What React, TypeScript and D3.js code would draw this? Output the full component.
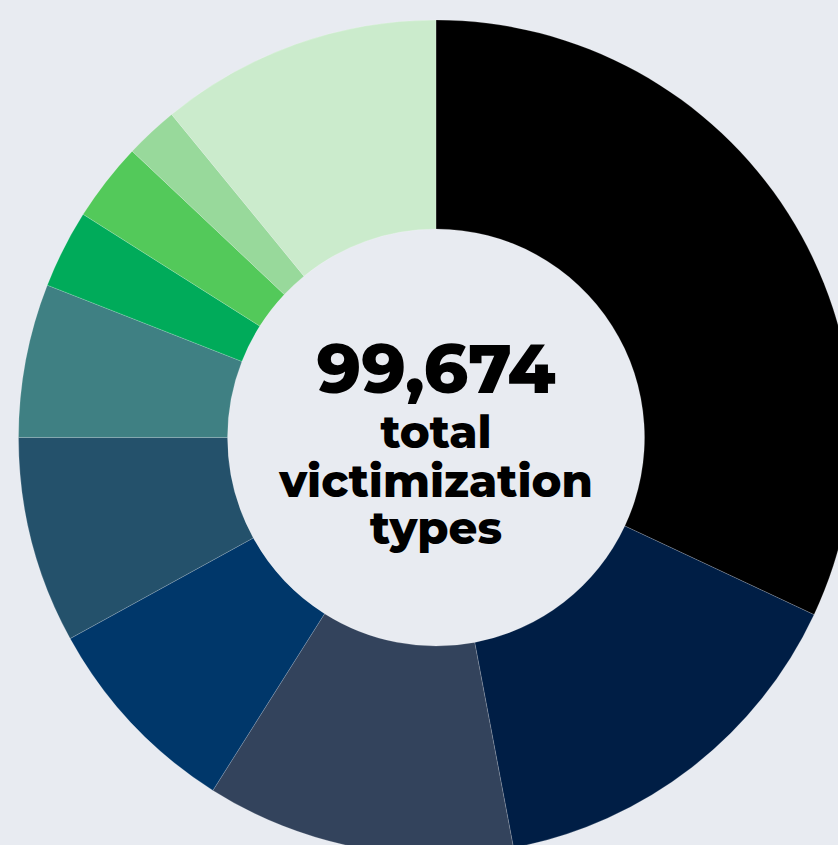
import React from "react";
import * as d3 from "d3";

const categories = [
  "Type 1",
  "Type 2",
  "Type 3",
  "Type 4",
  "Type 5",
  "Type 6",
  "Type 7",
  "Type 8",
  "Type 9",
  "Type 10",
];
const values = [31870, 15006, 11905, 8002, 7974, 5925, 3018, 3046, 2049, 10879];
const colors = [
  "#000000",
  "#001e45",
  "#33435c",
  "#00376a",
  "#24516b",
  "#3f8083",
  "#00ab5a",
  "#53c95a",
  "#98d99b",
  "#cbebcc",
];
const totalLabel = "99,674";
const centerLines = ["total", "victimization", "types"];

const W = 838;
const H = 845;
const BG = "#e8ebf1";

export default function App() {
  const cx = 436;
  const cy = 437.5;
  const outerR = 417.5;
  const innerR = 208.5;
  const data = categories.map((c, i) => ({ c, v: values[i], color: colors[i] }));
  const pie = d3
    .pie<any>()
    .sort(null)
    .value((d: any) => d.v)
    .startAngle(0)
    .endAngle(2 * Math.PI);
  const arcs = pie(data);
  const arc = d3.arc<any>().innerRadius(innerR).outerRadius(outerR);
  const font = "Montserrat, Inter, 'DejaVu Sans', sans-serif";
  return (
    <div style={{ position: "fixed", left: 0, top: 0, width: W, height: H }}>
      <svg width={W} height={H} style={{ display: "block" }}>
        <rect x={0} y={0} width={W} height={H} fill={BG} />
        <g transform={`translate(${cx},${cy})`}>
          {arcs.map((a, i) => (
            <path
              key={i}
              d={arc(a) as string}
              fill={a.data.color}
              stroke="#ffffff"
              strokeOpacity={0.35}
              strokeWidth={0.5}
            />
          ))}
          <text
            x={0}
            y={393 - cy}
            textAnchor="middle"
            fontFamily={font}
            fontWeight={800}
            fontSize={69}
            fill="#000"
          >
            {totalLabel}
          </text>
          {centerLines.map((t, i) => (
            <text
              key={t}
              x={0}
              y={[448, 497, 544][i] - cy}
              textAnchor="middle"
              fontFamily={font}
              fontWeight={800}
              fontSize={45}
              fill="#000"
            >
              {t}
            </text>
          ))}
        </g>
      </svg>
    </div>
  );
}
